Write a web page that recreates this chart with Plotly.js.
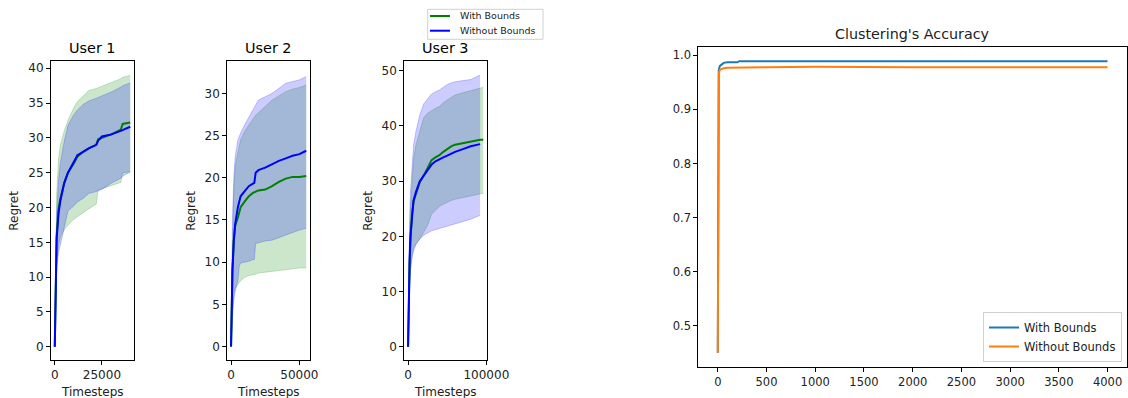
<!DOCTYPE html>
<html>
<head>
<meta charset="utf-8">
<script src="https://cdn.plot.ly/plotly-3.0.1.min.js"></script>
<style>html,body{margin:0;padding:0;background:#fff;}#chart{width:1128px;height:398px;}</style>
</head>
<body>
<div id="chart"></div>
<script>
// ---------- User 1 ----------
const t1  = [0, 500, 1000, 2000, 3000, 5000, 7000, 10000, 12000, 15000, 18000, 22000, 23000, 25000, 30000, 35000, 36000, 40000];
const g1  = [0, 11, 16, 19.8, 21.3, 23.5, 25, 26.3, 27.3, 28, 28.5, 29, 29.8, 30, 30.5, 31.2, 32, 32.2];
const b1  = [0, 10, 15.5, 19.2, 21, 23.5, 25, 26.5, 27.5, 28, 28.5, 29, 29.6, 30.2, 30.5, 31, 31.1, 31.6];
const gu1 = [0, 17, 22, 27, 29, 31, 32.5, 34.3, 35.2, 36, 36.8, 37.1, 37.2, 37.5, 38, 38.5, 38.7, 39];
const gl1 = [0, 8, 12.5, 14.5, 15.8, 16.8, 17.5, 18.3, 18.7, 19.2, 19.8, 20.5, 22.5, 22.7, 23.2, 23.6, 25, 25.1];
const bu1 = [0, 14, 19, 24, 26.5, 29.5, 31.8, 33.3, 34, 34.8, 35.3, 35.7, 35.8, 36.1, 36.6, 37.3, 37.5, 37.9];
const bl1 = [0, 7, 11.5, 13.5, 14.8, 17, 19.5, 20.2, 20.8, 21.3, 22, 22.3, 22.4, 22.6, 23.5, 24.2, 24.5, 25.1];

// ---------- User 2 ----------
const t2  = [0, 500, 1000, 2000, 3000, 5000, 6000, 7000, 10000, 13000, 16000, 17000, 18000, 20000, 25000, 30000, 35000, 40000, 45000, 50000, 55000];
const g2  = [0, 5, 9, 12.5, 14.3, 15.3, 16, 16.5, 17.2, 17.8, 18.2, 18.3, 18.4, 18.5, 18.6, 19, 19.5, 19.9, 20.1, 20.1, 20.2];
const b2  = [0, 5, 9, 12.5, 14.5, 16.5, 17.3, 17.8, 18.4, 19, 19.3, 19.4, 20.6, 20.9, 21.2, 21.6, 22, 22.3, 22.6, 22.8, 23.2];
const bu2 = [0, 9, 15, 20, 22.5, 24.5, 25, 25.3, 26.3, 27.2, 28, 28.3, 28.6, 29.2, 29.6, 30, 30.6, 31.2, 31.4, 31.6, 32];
const gu2 = [0, 8, 12, 18.5, 21.3, 23, 23.8, 24.5, 25.5, 26.3, 27, 27.2, 27.4, 27.7, 28.5, 29.2, 29.7, 30.2, 30.5, 30.7, 31];
const bl2 = [0, 2.5, 4, 5.5, 6.5, 7.8, 9.5, 9.9, 10, 10.1, 10.3, 10.3, 12.2, 12.3, 12.5, 12.6, 12.9, 13.2, 13.5, 13.8, 14];
const gl2 = [0, 2, 3, 6.2, 6.9, 7.4, 7.7, 7.8, 8.2, 8.4, 8.5, 8.5, 8.6, 8.7, 8.8, 8.9, 9, 9.1, 9.2, 9.3, 9.3];

// ---------- User 3 ----------
const t3g = [0, 500, 1000, 2000, 3000, 5000, 7000, 10000, 15000, 20000, 25000, 30000, 35000, 40000, 45000, 50000, 55000, 60000, 70000, 80000, 92000, 96000];
const g3  = [0, 7, 10, 15, 19, 24, 26.3, 27.5, 29.8, 31, 32.3, 33.8, 34.3, 34.7, 35.3, 35.8, 36.3, 36.6, 36.9, 37.2, 37.5, 37.5];
const gu3 = [0, 9, 14, 20, 25, 30, 34, 36.5, 39, 41.5, 42.3, 42.8, 43.2, 43.5, 44.2, 44.7, 45.2, 45.6, 46, 46.4, 46.8, 47];
const gl3 = [0, 5, 9, 12, 14, 16.5, 17.8, 18.6, 19.5, 20.8, 22, 24, 24.8, 25.4, 25.8, 26.2, 26.5, 26.7, 27, 27.3, 27.7, 27.8];
const t3b = [0, 500, 1000, 2000, 3000, 5000, 7000, 10000, 15000, 20000, 25000, 30000, 35000, 40000, 45000, 50000, 55000, 60000, 70000, 80000, 92000];
const b3  = [0, 7, 11, 16, 20, 24, 26.5, 28, 30, 31, 32, 33, 33.6, 34, 34.3, 34.6, 35, 35.3, 35.8, 36.3, 36.7];
const bu3 = [0, 10, 16, 23, 28, 33, 36.5, 39, 42, 44, 45, 45.8, 46.2, 46.5, 47, 47.5, 47.8, 48, 48.2, 48.4, 49.2];
const bl3 = [0, 4, 8, 11.5, 13.5, 16, 17.3, 18.5, 19.5, 20.2, 20.6, 21, 21.2, 21.4, 21.6, 21.8, 22, 22.3, 22.7, 23.1, 23.8];

// ---------- Clustering accuracy ----------
const accT       = [0, 2, 5, 10, 20, 40, 60, 100, 150, 200, 220, 300, 500, 1000, 1500, 2000, 2500, 3000, 3500, 3999];
const accWith    = [0.45, 0.80, 0.95, 0.972, 0.980, 0.984, 0.986, 0.987, 0.987, 0.987, 0.989, 0.989, 0.989, 0.989, 0.989, 0.989, 0.989, 0.989, 0.989, 0.989];
const accWithout = [0.45, 0.75, 0.93, 0.965, 0.973, 0.975, 0.976, 0.977, 0.977, 0.978, 0.978, 0.978, 0.978, 0.979, 0.978, 0.978, 0.978, 0.978, 0.978, 0.978];

const seriesNames = ['With Bounds', 'Without Bounds'];
const userTitles = ['User 1', 'User 2', 'User 3'];

const W = 1128, H = 398;
const px = x => x / W;
const py = y => 1 - y / H;

const GREEN = 'green', BLUE = 'blue';
const GFILL = 'rgba(0,128,0,0.2)', BFILL = 'rgba(0,0,255,0.2)';

function userTraces(tg, g, gu, gl, tb, b, bu, bl, ax) {
  const xa = 'x' + ax, ya = 'y' + ax;
  return [
    {x: tg, y: gl, xaxis: xa, yaxis: ya, mode: 'lines', line: {color: GFILL, width: 1}, showlegend: false, hoverinfo: 'skip'},
    {x: tg, y: gu, xaxis: xa, yaxis: ya, mode: 'lines', line: {color: GFILL, width: 1}, fill: 'tonexty', fillcolor: GFILL, showlegend: false, hoverinfo: 'skip'},
    {x: tb, y: bl, xaxis: xa, yaxis: ya, mode: 'lines', line: {color: BFILL, width: 1}, showlegend: false, hoverinfo: 'skip'},
    {x: tb, y: bu, xaxis: xa, yaxis: ya, mode: 'lines', line: {color: BFILL, width: 1}, fill: 'tonexty', fillcolor: BFILL, showlegend: false, hoverinfo: 'skip'},
    {x: tg, y: g, xaxis: xa, yaxis: ya, mode: 'lines', name: seriesNames[0], line: {color: GREEN, width: 2}, showlegend: false},
    {x: tb, y: b, xaxis: xa, yaxis: ya, mode: 'lines', name: seriesNames[1], line: {color: BLUE, width: 2}, showlegend: false}
  ];
}

const traces = [].concat(
  userTraces(t1, g1, gu1, gl1, t1, b1, bu1, bl1, ''),
  userTraces(t2, g2, gu2, gl2, t2, b2, bu2, bl2, '2'),
  userTraces(t3g, g3, gu3, gl3, t3b, b3, bu3, bl3, '3'),
  [
    {x: accT, y: accWith, xaxis: 'x4', yaxis: 'y4', mode: 'lines', name: seriesNames[0], line: {color: '#1f77b4', width: 2}, legend: 'legend2'},
    {x: accT, y: accWithout, xaxis: 'x4', yaxis: 'y4', mode: 'lines', name: seriesNames[1], line: {color: '#ff7f0e', width: 2}, legend: 'legend2'}
  ]
);

const FONT = 'DejaVu Sans, sans-serif';
const TXT = '#222';
function axBase(extra) {
  return Object.assign({
    showline: true, mirror: true, linecolor: '#000', linewidth: 1,
    ticks: 'outside', ticklen: 4, tickwidth: 1, tickcolor: '#000',
    showgrid: false, zeroline: false, fixedrange: true,
    tickfont: {family: FONT, size: 12, color: TXT}
  }, extra);
}

const regretDomY = [py(360), py(61.3)];
const layout = {
  width: W, height: H,
  margin: {l: 0, r: 0, t: 0, b: 0},
  paper_bgcolor: '#fff', plot_bgcolor: '#fff',
  font: {family: FONT, color: TXT},
  xaxis:  axBase({domain: [px(51), px(134)], range: [-2000, 42000], tickvals: [0, 25000], tickformat: 'd', anchor: 'y'}),
  yaxis:  axBase({domain: regretDomY, range: [-1.9, 41], dtick: 5, tick0: 0, anchor: 'x'}),
  xaxis2: axBase({domain: [px(227.3), px(310)], range: [-2750, 57750], tickvals: [0, 50000], tickformat: 'd', anchor: 'y2'}),
  yaxis2: axBase({domain: regretDomY, range: [-1.6, 33.8], dtick: 5, tick0: 0, anchor: 'x2'}),
  xaxis3: axBase({domain: [px(404.3), px(487)], range: [-4800, 100800], tickvals: [0, 100000], tickformat: 'd', anchor: 'y3'}),
  yaxis3: axBase({domain: regretDomY, range: [-2.4, 51.7], dtick: 10, tick0: 0, anchor: 'x3'}),
  xaxis4: axBase({domain: [px(698.3), px(1127)], range: [-200, 4199], dtick: 500, tick0: 0, tickformat: 'd', anchor: 'y4',
                  tickfont: {family: FONT, size: 11.5, color: TXT}}),
  yaxis4: axBase({domain: [py(366.7), py(47.3)], range: [0.4242, 1.0148], dtick: 0.1, tick0: 0, tickformat: '.1f', anchor: 'x4',
                  tickfont: {family: FONT, size: 11.5, color: TXT}}),
  showlegend: true,
  legend2: {x: px(1122), y: py(362), xanchor: 'right', yanchor: 'bottom', bgcolor: '#fff',
            bordercolor: '#d0d0d0', borderwidth: 1, font: {family: FONT, size: 11.5, color: TXT},
            itemwidth: 30, tracegroupgap: 0, traceorder: 'normal'},
  annotations: [],
  shapes: []
};

const userCenters = [92.5, 268.7, 445.7];
const regretX = [14, 191, 368];
userTitles.forEach((t, i) => {
  layout.annotations.push({text: t, xref: 'paper', yref: 'paper', x: px(userCenters[i]), y: py(48), xanchor: 'center', yanchor: 'middle', showarrow: false, font: {family: FONT, size: 14.4, color: '#000'}});
  layout.annotations.push({text: 'Timesteps', xref: 'paper', yref: 'paper', x: px(userCenters[i]), y: py(391.5), xanchor: 'center', yanchor: 'middle', showarrow: false, font: {family: FONT, size: 12, color: TXT}});
  layout.annotations.push({text: 'Regret', textangle: -90, xref: 'paper', yref: 'paper', x: px(regretX[i]), y: py(210.7), xanchor: 'center', yanchor: 'middle', showarrow: false, font: {family: FONT, size: 12, color: TXT}});
});
layout.annotations.push({text: "Clustering's Accuracy", xref: 'paper', yref: 'paper', x: px(912.8), y: py(34), xanchor: 'center', yanchor: 'middle', showarrow: false, font: {family: FONT, size: 14.3, color: TXT}});

// Compact legend for the regret panels (matplotlib-style figure legend)
const leg1 = {x0: 427.7, x1: 543, y0: 9.3, y1: 39.3, rows: [16, 30.7], colors: [GREEN, BLUE]};
layout.shapes.push({type: 'rect', xref: 'paper', yref: 'paper', x0: px(leg1.x0), x1: px(leg1.x1), y0: py(leg1.y1), y1: py(leg1.y0),
                    line: {color: '#d0d0d0', width: 1}, fillcolor: 'rgba(255,255,255,0.8)'});
seriesNames.forEach((n, i) => {
  layout.shapes.push({type: 'line', xref: 'paper', yref: 'paper', x0: px(430), x1: px(450), y0: py(leg1.rows[i]), y1: py(leg1.rows[i]),
                      line: {color: leg1.colors[i], width: 2}});
  layout.annotations.push({text: n, xref: 'paper', yref: 'paper', x: px(458), y: py(leg1.rows[i]), xanchor: 'left', yanchor: 'middle',
                           showarrow: false, font: {family: FONT, size: 9.5, color: TXT}});
});

Plotly.newPlot('chart', traces, layout, {staticPlot: true, displayModeBar: false});
</script>
</body>
</html>
